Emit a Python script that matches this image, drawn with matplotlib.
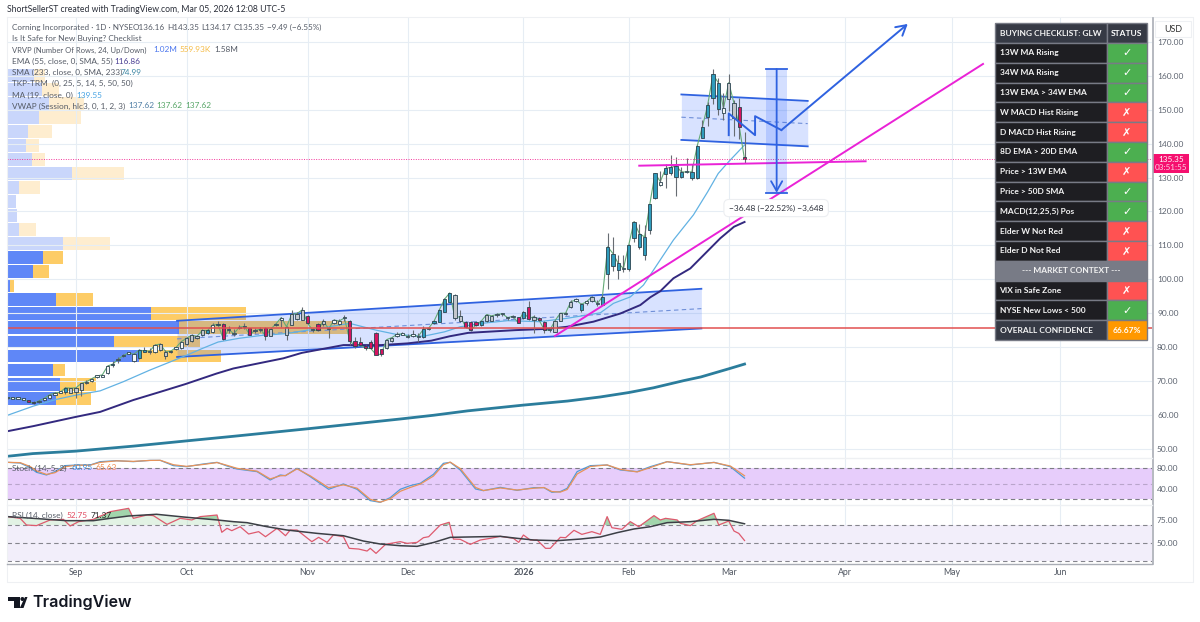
import numpy as np
import matplotlib
matplotlib.use("Agg")
import matplotlib.pyplot as plt
from matplotlib.patches import Rectangle, Polygon, Circle

# ---------- price data (daily bars, GLW), bar index 0 = mid Aug 2025 ----------
opens = [64.9,65.0,64.8,64.9,64.4,63.9,63.8,64.3,65.0,66.0,66.6,66.7,66.6,66.7,67.4,69.5,70.0,71.3,71.3,72.4,
         74.7,76.2,77.3,78.1,75.8,76.8,78.7,78.6,78.5,79.1,77.3,78.6,79.3,79.6,80.8,81.8,82.6,83.5,84.3,84.5,
         86.4,86.9,85.0,84.0,85.6,86.0,85.6,84.7,85.0,85.6,83.4,86.4,88.1,83.5,86.6,88.2,88.1,89.3,85.0,86.8,
         86.7,85.5,87.2,86.8,88.5,87.8,81.8,81.4,80.4,81.6,84.2,79.3,79.6,81.8,83.3,83.7,83.0,83.4,82.9,82.9,
         85.3,87.2,87.5,90.5,93.4,95.3,87.8,87.5,87.4,87.4,86.5,87.8,87.8,89.5,89.7,88.6,88.9,88.8,88.5,91.9,
         87.9,88.7,87.5,85.0,84.5,87.8,89.8,91.7,93.7,90.9,93.1,93.6,92.6,92.4,101.7,103.9,102.7,103.0,102.9,112.3,
         109.4,107.3,114.5,123.9,127.8,131.0,131.4,130.2,130.2,131.5,129.8,129.8,141.8,148.0,153.6,150.1,148.9,153.3,147.5,150.9,
         136.16]
closes = [65.1,64.8,64.9,64.5,63.9,63.4,64.2,64.9,66.0,66.5,66.7,68.0,67.9,68.0,69.3,69.8,70.7,71.5,71.8,74.4,
          75.0,76.4,77.5,78.3,77.9,79.1,78.9,78.8,80.6,80.9,78.7,78.8,79.9,81.6,82.6,83.5,83.2,84.9,84.9,86.6,
          86.6,82.4,85.2,83.9,85.9,86.1,83.7,84.9,85.3,83.4,85.3,86.9,88.7,86.0,89.7,89.9,91.0,87.0,85.0,84.9,
          87.8,85.3,88.0,87.7,88.6,81.9,80.4,80.6,79.6,79.6,77.8,77.9,82.2,82.8,83.8,83.9,83.1,83.6,83.1,85.3,
          85.6,87.6,90.9,94.1,96.0,88.5,89.1,86.0,85.0,86.5,87.7,89.6,89.2,89.7,89.8,88.7,89.1,87.2,90.4,88.4,
          89.0,87.9,85.0,85.0,87.8,90.0,90.0,93.4,93.9,92.6,93.4,94.8,92.8,94.8,109.6,107.6,104.7,103.2,110.1,117.0,
          113.5,112.5,122.1,131.2,128.8,132.7,133.0,133.4,131.7,131.6,131.7,139.3,145.0,151.4,160.4,158.0,150.4,158.0,151.9,145.0,
          135.35]
highs = [65.3,65.2,65.2,65.1,64.5,64.1,64.4,65.1,66.2,66.8,67.0,68.1,68.0,68.2,69.5,70.3,70.9,71.7,71.9,74.6,
         75.9,77.2,77.9,78.6,78.3,79.3,79.9,79.7,80.8,81.3,79.1,79.0,80.1,81.9,83.0,83.8,83.5,85.2,85.4,87.0,
         87.6,87.2,86.3,85.4,86.5,87.0,85.7,85.5,86.0,86.0,85.5,87.2,89.0,86.3,90.8,90.3,91.9,89.4,85.7,87.0,
         88.2,86.0,88.4,88.2,89.5,88.0,83.0,83.0,80.6,82.0,84.4,79.4,82.4,83.0,84.5,84.6,83.9,84.9,84.2,86.3,
         85.8,87.9,91.2,94.4,96.0,95.8,90.9,87.6,87.6,87.6,87.8,89.8,89.4,90.0,90.1,89.0,89.4,88.9,90.6,93.7,
         89.5,88.9,87.6,85.5,88.0,90.2,90.4,93.9,94.5,92.9,93.8,95.1,94.0,95.4,113.6,112.5,107.1,107.1,110.3,117.1,
         116.3,115.9,122.2,131.4,131.9,134.1,136.7,136.2,133.0,135.7,134.1,139.5,147.0,152.4,161.9,159.5,154.8,160.5,153.0,153.4,
         143.35]
lows = [64.7,64.6,64.6,64.3,63.7,63.1,63.6,64.1,64.8,65.9,66.5,66.2,66.5,64.9,65.7,69.0,69.8,71.0,71.1,72.1,
        74.1,75.4,77.0,77.9,75.5,76.5,78.6,78.0,78.3,78.9,76.5,78.4,79.1,79.4,80.5,81.5,82.3,83.3,84.0,84.3,
        86.3,82.2,84.3,83.3,85.3,85.3,83.5,84.2,84.5,82.2,83.2,86.3,86.0,82.2,86.4,88.0,88.0,86.9,84.5,84.7,
        86.3,82.8,86.7,86.6,87.8,80.5,79.7,80.2,79.2,79.4,77.6,77.4,79.4,81.5,83.0,83.5,82.8,83.0,81.5,82.6,
        84.9,86.8,87.3,90.3,93.0,88.0,87.5,85.6,84.8,86.3,86.3,87.5,87.6,89.0,89.2,88.0,88.5,87.0,88.3,88.1,
        84.3,87.6,84.1,84.4,84.4,87.6,89.4,91.5,93.2,90.5,92.5,93.3,92.0,92.3,97.0,102.5,100.0,102.2,102.5,111.0,
        108.8,105.6,113.3,123.7,127.5,126.8,130.9,124.6,130.0,131.2,129.4,129.6,141.6,145.3,151.8,148.5,147.0,149.5,142.2,141.5,
        134.17]
# candle colouring, one letter per bar: u teal, d magenta, n grey, w white
tones = list("wwwwddwwwwwunnnwwwwwuwwwwuuwwnnnwwnnnnuwu") + ["w"] * 100
for k in (41,46,49,57,59,65,66,67,68,69,70,71,87,88,89,97,99,101,102,139,140): tones[k] = "d"
for k in (50,53,54,55,56,60,72,73,85,86,91,92,100,104,105,107,111,137,138): tones[k] = "n"
for k in (79,81,82,83,84,90,98,109,113): tones[k] = "u"
for k in range(114, 136):
    if k not in (117, 124, 129): tones[k] = "u"

# moving averages read at sparse bars
ma19_x = [0,4.9,9.3,12.9,17.6,22,27,31,34,37,40,44,48,53,59,65,70,74,79,83,86,90,95,101,106.3,112.6,115.1,118.3,120.8,122.7,126.5,130.3,133,135,137,140]
ma19_y = [59.9,62.6,64.6,65.8,67.1,69.8,73.2,75.7,77.6,79.6,81.5,82.6,83.4,84.0,85.5,87.0,85.0,83.7,83.2,84.5,86.0,87.0,87.8,87.5,88.5,90.1,92.9,94.8,98.3,102.7,111.6,119.0,125.8,131.2,134.7,139.6]
ema55_x = [0,4.9,12.9,17.6,23.9,29,33.8,39.7,42.9,52.4,55.9,63.8,71,76,80.5,84,87.5,96.4,102.8,106.3,111.3,116.4,120.2,122.1,124,126.5,129.7,132.2,135.4,138,140]
ema55_y = [55.2,56.7,59.4,60.9,64.4,66.8,69.1,72.2,73.7,76.7,78.3,80.6,80.6,81.1,81.9,83.2,84.2,85.0,85.4,86.0,87.5,89.9,92.4,94.7,96.5,100.3,103.2,107.1,112.1,115.5,116.9]
sma233_x = [0,4.8,12.8,23.9,33.7,42.9,56.9,74.6,80.9,87.4,98,106.4,112.6,118,122.7,128.4,131.7,137,140]
sma233_y = [47.8,48.6,49.3,50.8,52.3,53.7,55.9,58.8,59.9,61.2,62.9,64.1,65.3,66.6,68.0,70.1,71.2,73.6,75.0]

# volume profile, top row first (up / down volume, relative)
vp_up = [80,105,126,97,62,57,75,196,35,27,30,37,168,109,79,10,148,431,515,322,395,137,158,146]
vp_dn = [35,50,104,125,73,38,40,156,65,0,0,50,142,60,48,12,110,287,510,258,247,36,110,106]
vp_top, vp_bottom = 162.2, 62.9

# drawings
chan1_x = [32.2, 131.8]; chan1_up = [87.76, 97.2]; chan1_lo = [77.1, 85.5]
chan2_x = [128.0, 152.0]; chan2_up = [154.5, 152.6]; chan2_lo = [141.1, 139.2]
zig_x = [137.0, 137.0, 142.0, 142.0, 147.0, 171.0]
zig_y = [142.5, 148.9, 142.5, 148.1, 144.0, 175.3]
flat_x = [120.0, 163.0]; flat_y = [133.5, 134.8]
trend_x = [104.0, 185.3]; trend_y = [83.3, 163.5]
measure_x = [144.1, 146.1, 148.1]; measure_y = [162.0, 125.52]
level_price, last_price = 85.5, 135.35

# stochastic
stoch_x = [0,2.4,4.3,5.5,7.4,9,10.9,13.1,15.7,17.6,20.7,23.9,27.1,29,31.5,34,37.2,39.8,41.7,43.6,47.4,49.9,51.8,52.8,55,57.5,61,63.8,66.4,68.9,70.8,72.7,74.6,
           76.5,78.4,80.9,82.8,84.1,86,88.9,90.4,93.6,96.8,100,101.9,103.4,105,106.3,108.2,110.7,113.9,116.4,119.6,122.1,125.3,129.7,134.2,137.3,140]
stoch_k = [91.6,90.3,81.3,72.3,67.1,73.6,85.2,86.4,86.4,92.9,94.8,92.9,95.5,95.5,85.2,83.2,88.4,91.6,84.5,78.7,73.6,57.4,67.1,65.8,80,63.9,39.4,49.7,39.4,17.5,14.2,23.3,39.4,
           46.5,51,68.4,89.7,91.6,76.8,40,36.8,43.2,37.4,42.6,42.6,33.6,34.9,41.3,73.6,85.2,86.4,76.8,73.6,83.2,92.9,86.4,91.6,83.2,61]
stoch_d = [91.6,91.0,83.5,75.0,68.2,71.5,83.0,86.0,86.2,91.5,94.5,93.5,95.3,95.6,87.0,83.8,87.5,91.2,85.8,80.0,74.5,59.5,65.5,66.0,79.0,65.5,42.5,48.0,41.5,20.0,14.5,21.0,35.5,
           43.0,49.5,65.0,87.0,92.0,79.5,43.0,37.0,42.0,38.0,41.5,42.8,35.0,34.0,39.0,69.0,83.5,86.6,78.0,73.0,81.5,92.8,87.0,91.3,84.5,65.6]

# RSI
rsi_x = [0,2.4,3.6,5.5,8.1,10.6,11.9,13.5,16.3,19.5,23,23.9,26.5,27.7,30.3,32.8,35,36.6,39.8,40.7,41.7,42.6,44.2,45.8,47.7,49,51.2,52.8,53.7,55,57.8,59.1,60.7,61.9,63.8,64.9,66.7,68.3,68.9,70,71.8,74.6,
         75.9,77.8,79,80,82.2,83.9,84.7,86,87.9,89.8,91.7,93.6,96.1,97.1,98,99.3,100.6,102.2,103.1,105,106,107.6,109.1,111,112.6,113.9,114.8,116.7,118.3,119.9,122.8,124,125,127.2,127.8,129.7,131,134.2,135.1,137,138,138.9,140]
rsi_y = [79.3,77.4,70,69.3,75.6,76.3,68.9,73.7,76.3,84.8,88.5,77.4,81.1,80.4,70.7,77.4,75.6,79.3,81.1,61.9,66.3,63.7,68.1,60,62.6,57,66.3,58.1,64.4,64.4,51.5,56.3,50.7,58.9,57,44.1,43.3,41.1,44.1,38.5,48.5,51.5,
         49.6,50.7,55.9,57,70,73,54.4,54.1,48.5,53.3,55.2,57.4,55.2,50.7,58.9,53.3,53.3,44.1,44.1,56.3,55.9,64.1,59.6,62.6,59.6,79.3,67,65.2,73.7,68.1,80.4,75.6,77.4,75.6,71.9,69.3,74.8,83,70,74.4,63.3,60.7,52.75]
rsima_x = [0,4.9,11.2,16.3,19.5,23,28.3,33.4,39.8,42.9,45.5,49.3,53.1,58.8,63.8,67.6,70.8,74.6,77.8,81,84.1,90.4,93.6,96.8,100,104.4,108.8,112.6,115.8,119,122.1,125.3,129.7,134.2,137,140]
rsima_y = [79.3,77.4,74.8,74.8,77.4,80,81.9,78.9,75.6,73.7,72.6,68.1,64.4,60.7,58.1,52.2,48.9,47,46.3,50.7,56.3,57,57.4,55.2,53.3,52.6,54.4,56.7,61.5,65.6,68.1,72.6,73.7,76.3,75.2,71.37]

# axis ticks
month_x = [13,34,57,76,98,118,137,159,179.4,200]
month_labels = ["Sep","Oct","Nov","Dec","2026","Feb","Mar","Apr","May","Jun"]
price_ticks = [170,160,150,140,130,120,110,100,90,80,70,60,50]

# checklist
check_labels = ["13W MA Rising","34W MA Rising","13W EMA > 34W EMA","W MACD Hist Rising","D MACD Hist Rising",
                "8D EMA > 20D EMA","Price > 13W EMA","Price > 50D SMA","MACD(12,25,5) Pos","Elder W Not Red","Elder D Not Red"]
check_pass = [1,1,1,0,0,1,0,1,1,0,0]
context_labels = ["VIX in Safe Zone","NYSE New Lows < 500"]
context_pass = [0,1]

# ---------- layout ----------
W, H = 1200, 622
BLUE = "#2f62e0"; MAG = "#ea22d6"; FONT = ["Lato", "DejaVu Sans"]
plt.rcParams["font.family"] = FONT
fig = plt.figure(figsize=(W/100, H/100), dpi=100, facecolor="white")
L, R = 7, 1152
def pane(top, bot):
    a = fig.add_axes([L/W, 1-bot/H, (R-L)/W, (bot-top)/H], facecolor="none")
    a.set_xlim(-0.1, 217.4)
    for s in a.spines.values(): s.set_visible(False)
    a.set_xticks(month_x); a.grid(True, axis="x", color="#e6edf4", lw=0.8)
    a.yaxis.tick_right()
    a.tick_params(length=0, labelsize=6.0, labelcolor="#5d6470", labelbottom=False, pad=3.6)
    a.set_axisbelow(True)
    return a
ax = pane(18, 458); ax2 = pane(458, 505); ax3 = pane(505, 564)
ax.set_ylim(47.3, 177.05); ax2.set_ylim(9, 100); ax3.set_ylim(26.7, 92.2)

# main pane
ax.set_yticks(price_ticks)
ax.set_yticklabels([f"{p:.2f}" for p in price_ticks])
ax.grid(True, axis="y", color="#e6edf4", lw=0.8)

# volume profile
vp = ax.twiny(); vp.set_xlim(0, (R-L)*3); vp.axis("off"); vp.set_zorder(0)
ax.set_zorder(1)
n = len(vp_up); rh = (vp_top-vp_bottom)/n
ys = [vp_top-rh*(i+.5) for i in range(n)]
for i, (y, u, d) in enumerate(zip(ys, vp_up, vp_dn)):
    strong = i >= 13
    vp.barh(y, u, height=rh*0.92, color="#5f87f7" if strong else "#c9d6fb", lw=0)
    vp.barh(y, d, left=u, height=rh*0.92, color="#fdcc66" if strong else "#feedcf", lw=0)

# channels
for cx, cu, cl in ((chan1_x, chan1_up, chan1_lo), (chan2_x, chan2_up, chan2_lo)):
    ax.fill_between(cx, cl, cu, color="#2962ff", alpha=0.18, lw=0, zorder=1.5)
    ax.plot(cx, cu, color=BLUE, lw=1.3, zorder=2); ax.plot(cx, cl, color=BLUE, lw=1.3, zorder=2)
    ax.plot(cx, [(a+b)/2 for a, b in zip(cu, cl)], color="#6f8fd8", lw=0.8, ls=(0,(4,3)), zorder=2)

ax.plot(sma233_x, sma233_y, color="#2b7d9c", lw=2.0, zorder=3)
ax.plot(ema55_x, ema55_y, color="#33297f", lw=1.4, zorder=3)
ax.plot(ma19_x, ma19_y, color="#62b2e3", lw=0.9, zorder=3)

# candles
x = np.arange(len(opens))
ax.plot(x, closes, color="#63ab76", lw=0.8, zorder=3.2)
ax.vlines(x, lows, highs, color="#676c72", lw=0.8, zorder=3.4)
tone_color = {"u": "#2f9cbc", "d": "#d4145f", "n": "#c3c6cb", "w": "#f4f6f6"}
bots = [min(a, b) for a, b in zip(opens, closes)]
hts = [max(abs(a-b), 0.35) for a, b in zip(opens, closes)]
ax.bar(x, hts, bottom=bots, width=0.62, color=[tone_color[t] for t in tones],
       edgecolor="#2b4450", linewidth=0.6, zorder=3.6)

# lines on top
ax.axhline(level_price, color="#e2504f", lw=1.1, zorder=4)
ax.axhline(last_price, color="#f3379a", lw=0.7, ls=(0,(1,1.5)), zorder=4)
ax.plot(flat_x, flat_y, color=MAG, lw=1.4, zorder=4)
ax.plot(trend_x, trend_y, color=MAG, lw=1.4, zorder=4)
ax.plot(zig_x[:-1], zig_y[:-1], color=BLUE, lw=1.4, zorder=4.2)
ax.annotate("", xy=(zig_x[-1], zig_y[-1]), xytext=(zig_x[-2], zig_y[-2]),
            arrowprops=dict(arrowstyle="->,head_length=0.7,head_width=0.4", color=BLUE, lw=1.4, shrinkA=0, shrinkB=0), zorder=4.2)
ax.add_patch(Rectangle((measure_x[0], measure_y[1]), measure_x[2]-measure_x[0], measure_y[0]-measure_y[1],
                       color="#2962ff", alpha=0.2, lw=0, zorder=4.1))
for my in measure_y:
    ax.plot([measure_x[0], measure_x[2]], [my, my], color=BLUE, lw=1.3, zorder=4.2)
ax.annotate("", xy=(measure_x[1], measure_y[1]), xytext=(measure_x[1], measure_y[0]),
            arrowprops=dict(arrowstyle="->,head_length=0.7,head_width=0.4", color=BLUE, lw=1.3, shrinkA=0, shrinkB=0), zorder=4.2)
ax.text(146, 121, "\u221236.48 (\u221222.52%) \u22123,648", ha="center", va="center", fontsize=6.0, color="#2a2e39", zorder=6,
        bbox=dict(boxstyle="round,pad=0.6", fc="white", ec="#eceef1", lw=0.8))

# stochastic pane
ax2.axhspan(20, 80, color="#e7cdfb", lw=0)
ax2.set_yticks([80, 40]); ax2.set_yticklabels(["80.00", "40.00"])
for v, c in ((80, "#7d7d85"), (50, "#b9a5cb"), (20, "#7d7d85")):
    ax2.axhline(v, color=c, lw=0.8, ls=(0, (4, 3)))
ax2.plot(stoch_x, stoch_k, color="#4f9bd9", lw=0.9)
ax2.plot(stoch_x, stoch_d, color="#e8935a", lw=0.9)

# RSI pane
ax3.axhspan(30, 70, color="#f2eefa", lw=0)
ax3.set_yticks([75, 50]); ax3.set_yticklabels(["75.00", "50.00"])
for v in (70, 50, 30):
    ax3.axhline(v, color="#85858d", lw=0.8, ls=(0, (4, 3)))
grid = np.arange(0, 140.01, 0.25)
ri = np.interp(grid, rsi_x, rsi_y); mi = np.interp(grid, rsima_x, rsima_y)
ax3.fill_between(grid, np.maximum(mi, 70), 70, where=mi > 70, color="#bfe3c4", alpha=0.45, lw=0)
ax3.fill_between(grid, ri, np.maximum(mi, 70), where=ri > np.maximum(mi, 70), color="#57b368", alpha=0.55, lw=0)
ax3.plot(rsi_x, rsi_y, color="#de5a6e", lw=0.9)
ax3.plot(rsima_x, rsima_y, color="#3c3f46", lw=1.1)
ax3.set_xticklabels(month_labels)
ax3.tick_params(axis="x", labelbottom=True, labelsize=6.3, labelcolor="#4f5560", pad=3)
ax3.get_xticklabels()[4].set_fontweight("bold")

# ---------- overlay (pixel layout) ----------
ov = fig.add_axes([0, 0, 1, 1], facecolor="none")
ov.set_xlim(0, W); ov.set_ylim(H, 0); ov.axis("off"); ov.set_zorder(10)
ov.plot([7, 7, 1193, 1193, 7], [17, 582, 582, 17, 17], color="#eef0f3", lw=0.8)
ov.plot([R+.5, R+.5], [18, 564], color="#a9adb5", lw=1.2)
ov.plot([7, R], [564, 564], color="#a9adb5", lw=1.0)
ov.plot([7, R], [458, 458], color="#eef0f3", lw=1.0); ov.plot([7, R], [505, 505], color="#eef0f3", lw=1.0)

def tx(px, py, s, color="#555b66", size=5.95, **kw):
    ov.text(px, py, s, color=color, fontsize=size, va="center", ha=kw.pop("ha", "left"), **kw)

tx(7, 10, "ShortSellerST created with TradingView.com, Mar 05, 2026 12:08 UTC-5", color="#2a2e39", size=6.25)
tx(12, 27.3, "Corning Incorporated \u00b7 1D \u00b7 NYSE", size=5.9)
for px, s in ((133, "O136.16"), (167, "H143.35"), (201, "L134.17"), (233.7, "C135.35"), (267, "\u22129.49 (\u22126.55%)")):
    tx(px, 27.3, s, size=5.9)
tx(12, 38.7, "Is It Safe for New Buying? Checklist")
tx(12, 50, "VRVP (Number Of Rows, 24, Up/Down)", size=5.5)
tx(153, 50, "1.02M", color="#4d78ee"); tx(180, 50, "559.93K", color="#f5bb45"); tx(214, 50, "1.58M")
tx(12, 61, "EMA (55, close, 0, SMA, 55)"); tx(114, 61, "116.86", color="#4a3f94")
tx(12, 72.3, "SMA (233, close, 0, SMA, 233)"); tx(121, 72.3, "74.99", color="#3b86a4")
tx(12, 83.5, "TKP-TRM  (0, 25, 5, 14, 5, 50, 50)")
tx(12, 95, "MA (19, close, 0)"); tx(76, 95, "139.55", color="#46a3e3")
tx(12, 106, "VWAP (Session, hlc3, 0, 1, 2, 3)")
tx(128, 106, "137.62", color="#4f7fa5"); tx(156, 106, "137.62", color="#56a566"); tx(185, 106, "137.62", color="#56a566")
tx(12, 468, "Stoch (14, 5, 2)"); tx(72, 468, "60.95", color="#3f93dd"); tx(95, 468, "65.63", color="#ee8a4c")
tx(12, 515.5, "RSI (14, close)"); tx(67, 515.5, "52.75", color="#e04a60"); tx(91, 515.5, "71.37", color="#222")

# USD box and price tag
ov.add_patch(Rectangle((1155, 20.7), 35.7, 16.6, fc="white", ec="#eef0f3", lw=0.8))
tx(1172.8, 29, "USD", ha="center", size=6.4, color="#333")
ov.add_patch(Rectangle((1152.7, 154), 36.3, 19, fc="#f5106f", lw=0))
tx(1171, 159, "135.35", color="white", ha="center", size=5.9)
tx(1171, 168, "03:51:55", color="#ffd0e4", ha="center", size=5.9)

# checklist table
tl, tm, tr, tt, tb = 995, 1106.7, 1146.7, 23.3, 340
all_rows = 16; rh_px = (tb-tt)/all_rows
EDGE = "#787b86"; DARK = "#1e1e22"; HEAD = "#363a45"; GREEN = "#4caf50"; RED = "#ff5252"
TS = 6.05
def row(i, label, status, lc, sc, span=False, center=False, status_bold=True):
    y = tt+i*rh_px
    if span:
        ov.add_patch(Rectangle((tl, y), tr-tl, rh_px, fc=lc, ec=EDGE, lw=1))
        tx((tl+tr)/2, y+rh_px/2, label, color="#f2f2f2", ha="center", size=TS, fontweight="bold"); return
    ov.add_patch(Rectangle((tl, y), tm-tl, rh_px, fc=lc, ec=EDGE, lw=1))
    ov.add_patch(Rectangle((tm, y), tr-tm, rh_px, fc=sc, ec=EDGE, lw=1))
    tx((tl+tm)/2 if center else tl+4.5, y+rh_px/2, label, color="#f4f4f4", ha="center" if center else "left", size=TS, fontweight="bold")
    tx((tm+tr)/2, y+rh_px/2, status, color="white", ha="center", size=TS if status_bold else 8, fontweight="bold")
mark = {1: "\u2713", 0: "\u2717"}; mc = {1: GREEN, 0: RED}
row(0, "BUYING CHECKLIST: GLW", "STATUS", HEAD, HEAD, center=True)
for i, (lb, ok) in enumerate(zip(check_labels, check_pass)):
    row(i+1, lb, mark[ok], DARK, mc[ok], status_bold=False)
row(12, "--- MARKET CONTEXT ---", "", EDGE, EDGE, span=True)
for i, (lb, ok) in enumerate(zip(context_labels, context_pass)):
    row(13+i, lb, mark[ok], DARK, mc[ok], status_bold=False)
row(15, "OVERALL CONFIDENCE", "66.67%", HEAD, "#ff9800")

# logo
ov.add_patch(Polygon([(8, 597), (19.5, 597), (19.5, 608), (13.5, 608), (13.5, 601), (8, 601)], fc="#131722", lw=0))
ov.add_patch(Circle((22.4, 599), 2.0, fc="#131722", lw=0))
ov.add_patch(Polygon([(25, 597), (27.5, 597), (23.5, 608), (19.8, 608)], fc="#131722", lw=0))
ov.text(32.5, 602.5, "TradingView", fontsize=11.6, color="#131722", fontweight="semibold", family=["Inter", "DejaVu Sans"], va="center")

fig.savefig("out.png", dpi=100, facecolor="white")
